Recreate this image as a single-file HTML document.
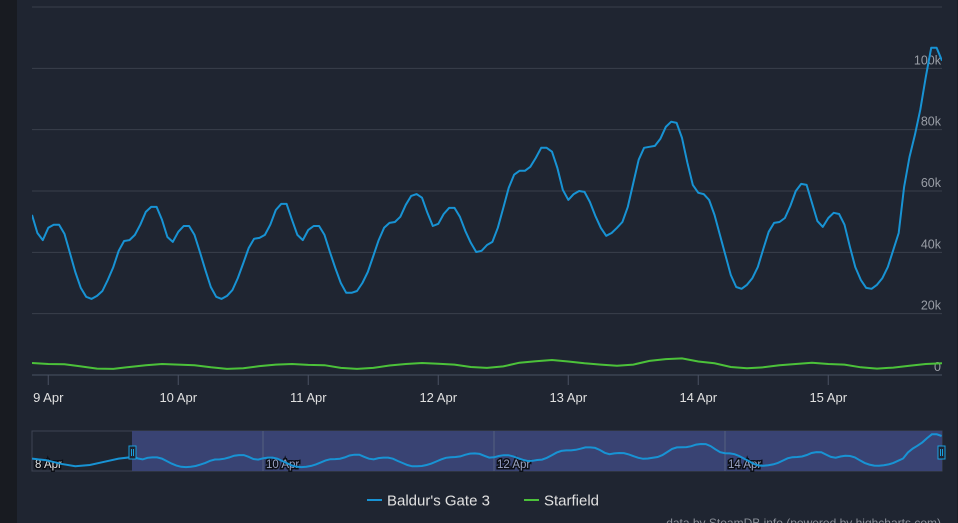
<!DOCTYPE html>
<html><head><meta charset="utf-8"><style>
body{margin:0;width:958px;height:523px;overflow:hidden;background:#1f2531;font-family:"Liberation Sans",sans-serif}
svg{display:block}
</style></head><body>
<svg id="c" width="958" height="523">
<rect x="0" y="0" width="958" height="523" fill="#1f2531"/>
<rect x="0" y="0" width="17" height="523" fill="#181b21"/>
<rect x="957" y="0" width="1" height="523" fill="#1a1e26"/>
<defs><clipPath id="pc"><rect x="32" y="0" width="910" height="380"/></clipPath>
<clipPath id="nc"><rect x="32" y="431" width="910" height="41"/></clipPath></defs>
<g id="grid"></g><g id="xaxis"></g><g id="series" clip-path="url(#pc)"></g>
<g id="nav"></g>
<g>
<g><line x1="367" y1="500" x2="382" y2="500" stroke="#1893d4" stroke-width="2"/><text x="387" y="505.5" fill="#e0e0e0" font-size="15">Baldur's Gate 3</text></g>
<g><line x1="524" y1="500" x2="539" y2="500" stroke="#4cc23a" stroke-width="2"/><text x="544" y="505.5" fill="#e0e0e0" font-size="15">Starfield</text></g>
</g>
<text x="941" y="527" text-anchor="end" fill="#8a8f98" font-size="12">data by SteamDB.info (powered by highcharts.com)</text>
</svg>
<script>
const yTicks=[0,20,40,60,80,100,120];
const yTickLabels=["0","20k","40k","60k","80k","100k",""];
const dateTickHours=[3,27,51,75,99,123,147];
const dateTickLabels=["9 Apr","10 Apr","11 Apr","12 Apr","13 Apr","14 Apr","15 Apr"];
const baldurs=[52.2,46.3,44,48,49,49,46,39.8,33.6,28.4,25.5,24.8,25.8,27.4,31,35.2,40.5,43.7,44,45.7,49,53.2,54.8,54.8,50.6,45,43.4,46.7,48.6,48.6,45.7,40.1,34.3,28.7,25.5,24.8,25.8,27.7,31.6,36.5,41.4,44.4,44.7,45.7,49,53.8,55.8,55.8,50.6,45.7,44,47.3,48.6,48.6,45.7,40.1,34.9,30,26.8,26.8,27.4,30,33.6,38.8,44,48,49.6,49.9,51.6,55.5,58.4,59,57.8,52.9,48.6,49.3,52.5,54.5,54.5,51.6,47,43.1,40.1,40.5,42.4,
43.4,48,54.5,61,65.3,66.6,66.6,67.9,70.8,74.1,74.1,72.8,67.5,60.4,57.1,59,60,59.7,56.4,51.9,48,45.4,46.3,48,49.9,54.8,62.6,70.2,74.1,74.4,74.7,77,80.9,82.6,82.2,77.3,69.2,62,59.4,59,57.1,52.2,45.7,39.2,32.6,28.7,28.1,29.4,31.6,35.2,41.1,46.7,49.6,49.9,51.2,55.1,60,62.3,62,56.1,50.2,48.3,51.2,52.9,52.5,49,41.8,35.2,31,28.4,28.1,29.4,31.6,35.2,40.8,46.3,61.3,71.1,78.3,86.5,97.2,106.7,106.7,102.5];
const starfield=[3.9,3.6,3.5,2.8,2.1,2.0,2.6,3.2,3.6,3.4,3.2,2.5,2.0,2.2,2.9,3.4,3.6,3.3,3.2,2.3,2.0,2.3,3.1,3.6,3.9,3.7,3.4,2.6,2.3,2.8,4.0,4.5,4.9,4.4,3.8,3.4,3.0,3.4,4.6,5.2,5.4,4.4,3.8,2.6,2.2,2.5,3.2,3.6,4.0,3.6,3.4,2.5,2.1,2.4,3.0,3.6,3.8];
const navEarly=[46,42,33,27,30,38,46,50];
const navDateLabels=["8 Apr","10 Apr","12 Apr","14 Apr"];

const NS="http://www.w3.org/2000/svg";
function mk(t,a,p){const e=document.createElementNS(NS,t);for(const k in a)e.setAttribute(k,a[k]);p.appendChild(e);return e;}
const hourPx=130/24;
const x=h=>32+h*hourPx;
const y=v=>375-v*(368/120);
const navX=h=>32+h*(115.5/24);
const navY=v=>471-(v-15)/95*38;

const grid=document.getElementById('grid');
yTicks.forEach((t,i)=>{
 const l=mk('line',{x1:32,x2:942,y1:y(t),y2:y(t),stroke:i==0?'#4a5262':'#3a404b','stroke-width':1},grid);
 
 
 const tx=mk('text',{x:941,y:y(t)-4,'text-anchor':'end',fill:'#9a9ea6','font-size':12.5},grid);
 tx.textContent=yTickLabels[i];
 
 
});
const xa=document.getElementById('xaxis');
dateTickHours.forEach((h,i)=>{
 const l=mk('line',{x1:x(h),x2:x(h),y1:375,y2:385,stroke:'#4a5262'},xa);
 
 
 const t=mk('text',{x:x(h),y:402,'text-anchor':'middle',fill:'#e0e0e0','font-size':13},xa);
 t.textContent=dateTickLabels[i];
 
 
});
const s=document.getElementById('series');
const sp=mk('path',{d:'M'+starfield.map((v,i)=>x(i*3).toFixed(1)+','+y(v).toFixed(1)).join('L'),fill:'none',stroke:'#4cc23a','stroke-width':2},s);


const bp=mk('path',{d:'M'+baldurs.map((v,i)=>x(i).toFixed(1)+','+y(v).toFixed(1)).join('L'),fill:'none',stroke:'#1893d4','stroke-width':2,'stroke-linejoin':'round'},s);



const nav=document.getElementById('nav');


mk('rect',{x:32,y:431,width:910,height:40,fill:'#1f2531',stroke:'#3d4452'},nav);
const sel=mk('rect',{x:132,y:431,width:810,height:40,fill:'#394373'},nav);


[2,4,6].forEach((d,i)=>{
 const gx=navX(d*24);
 mk('line',{x1:gx,x2:gx,y1:431,y2:471,stroke:'#55607f'},nav);
});
navDateLabels.forEach((lab,i)=>{
 const t=mk('text',{x:navX(i*48)+3,y:468,fill:'#0c0f16',stroke:'#0c0f16','stroke-width':3,'font-size':11.5,'paint-order':'stroke'},nav);
 t.textContent=lab;
 
 
 const t2=mk('text',{x:navX(i*48)+3,y:468,fill:i==0?'#e0e0e0':'#9aa3c4','font-size':11.5},nav);
 t2.textContent=lab;
 
 
});
const navPts=navEarly.map((v,i)=>[navX(i*3),navY(v)]).concat(baldurs.map((v,i)=>[navX(21+i),navY(v)]));
const np=mk('path',{d:'M'+navPts.map(p=>p[0].toFixed(1)+','+p[1].toFixed(1)).join('L'),fill:'none',stroke:'#1893d4','stroke-width':2,'clip-path':'url(#nc)'},nav);


[[129,'navigator-handle-left'],[938,'navigator-handle-right']].forEach(([hx,n])=>{
 const h=mk('rect',{x:hx,y:446,width:7,height:13,fill:'#1f2531',stroke:'#1aa0e0','stroke-width':1},nav);
 
 
 mk('line',{x1:hx+2.5,x2:hx+2.5,y1:449,y2:456,stroke:'#1aa0e0'},nav);
 mk('line',{x1:hx+4.5,x2:hx+4.5,y1:449,y2:456,stroke:'#1aa0e0'},nav);
});
</script>
</body></html>
